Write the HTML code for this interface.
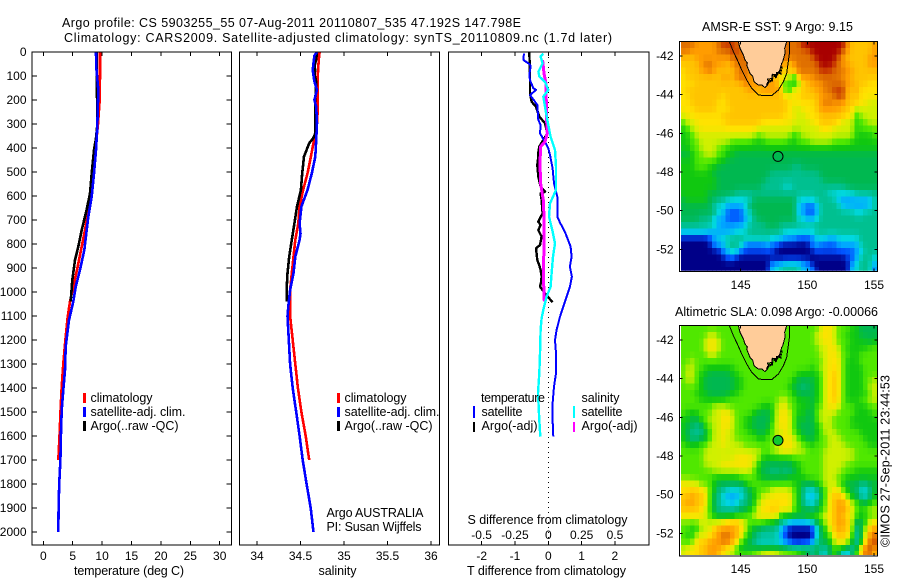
<!DOCTYPE html>
<html lang="en">
<head>
<meta charset="utf-8">
<title>Argo profile CS 5903255_55</title>
<style>
html,body{margin:0;padding:0;background:#fff;}
svg{display:block;font-family:"Liberation Sans",sans-serif;font-size:12px;fill:#000;}
text{fill:#000;}
text[textLength]{font-size:12.5px;}
</style>
</head>
<body>
<svg id="chart" xmlns="http://www.w3.org/2000/svg" width="900" height="580" viewBox="0 0 900 580">
<defs>
<clipPath id="clip-sst"><rect x="680" y="42" width="197.5" height="228.7"/></clipPath>
<clipPath id="clip-sla"><rect x="680" y="326" width="197.5" height="229"/></clipPath>
</defs>
<rect x="0" y="0" width="900" height="580" fill="#fff"/>
<text x="62" y="27" textLength="459" lengthAdjust="spacing">Argo profile: CS 5903255_55 07-Aug-2011 20110807_535 47.192S 147.798E</text>
<text x="64" y="42" textLength="548" lengthAdjust="spacing">Climatology: CARS2009. Satellite-adjusted climatology: synTS_20110809.nc (1.7d later)</text>

<g id="layer-heat"></g>
<g id="layer-marks"></g>
<g id="layer-axes"></g>

<g>
<rect x="83" y="393" width="3" height="10" fill="#f00"/>
<rect x="83" y="407" width="3" height="10" fill="#00f"/>
<rect x="83" y="421" width="3" height="10" fill="#000"/>
<text x="90.5" y="402" textLength="62" lengthAdjust="spacing">climatology</text>
<text x="90.5" y="416" textLength="95" lengthAdjust="spacing">satellite-adj. clim.</text>
<text x="90.5" y="430" textLength="88" lengthAdjust="spacing">Argo(..raw -QC)</text>
</g>
<g>
<rect x="337" y="393" width="3" height="10" fill="#f00"/>
<rect x="337" y="407" width="3" height="10" fill="#00f"/>
<rect x="337" y="421" width="3" height="10" fill="#000"/>
<text x="344.5" y="402" textLength="62" lengthAdjust="spacing">climatology</text>
<text x="344.5" y="416" textLength="95" lengthAdjust="spacing">satellite-adj. clim.</text>
<text x="344.5" y="430" textLength="88" lengthAdjust="spacing">Argo(..raw -QC)</text>
</g>
<text x="326.5" y="517" textLength="97" lengthAdjust="spacing">Argo AUSTRALIA</text>
<text x="326.5" y="531" textLength="95" lengthAdjust="spacing">PI: Susan Wijffels</text>

<g>
<text x="481" y="402" textLength="64" lengthAdjust="spacing">temperature</text>
<rect x="473" y="406" width="2" height="12" fill="#00f"/>
<text x="481.5" y="416" textLength="41" lengthAdjust="spacing">satellite</text>
<rect x="473" y="422" width="2" height="10" fill="#000"/>
<text x="481.5" y="430" textLength="56" lengthAdjust="spacing">Argo(-adj)</text>
<text x="581.5" y="402" textLength="38" lengthAdjust="spacing">salinity</text>
<rect x="573" y="406" width="2" height="12" fill="#0ff"/>
<text x="581.5" y="416" textLength="41" lengthAdjust="spacing">satellite</text>
<rect x="573" y="422" width="2" height="10" fill="#f0f"/>
<text x="581.5" y="430" textLength="56" lengthAdjust="spacing">Argo(-adj)</text>
</g>

<text x="74" y="575" textLength="110" lengthAdjust="spacing">temperature (deg C)</text>
<text x="318.5" y="575" textLength="38" lengthAdjust="spacing">salinity</text>
<text x="467.5" y="524" textLength="160" lengthAdjust="spacing">S difference from climatology</text>
<text x="467" y="575" textLength="159" lengthAdjust="spacing">T difference from climatology</text>
<text x="702" y="31" textLength="151" lengthAdjust="spacing">AMSR-E SST: 9 Argo: 9.15</text>
<text x="675" y="316" textLength="203" lengthAdjust="spacing">Altimetric SLA: 0.098 Argo: -0.00066</text>
<text transform="translate(889.5 547) rotate(-90)" textLength="172" lengthAdjust="spacing">©IMOS 27-Sep-2011 23:44:53</text>
</svg>

<script>
/* ---------- profile data (depth in m) ---------- */
const depthTicks = [0,100,200,300,400,500,600,700,800,900,1000,1100,1200,1300,1400,1500,1600,1700,1800,1900,2000];
const tempTicks = [0,5,10,15,20,25,30];
const salTicks = [34,34.5,35,35.5,36];
const salTickLabels = ['34','34.5','35','35.5','36'];
const tDiffTicks = [-2,-1,0,1,2];
const sDiffTicks = [-0.5,-0.25,0,0.25,0.5];
const sDiffTickLabels = ['-0.5','-0.25','0','0.25','0.5'];
const lonTicks = [145,150,155];
const latTicks = [-42,-44,-46,-48,-50,-52];

const tempClimDepth = [0,100,200,300,400,500,600,658,742,811,894,978,1040,1103,1186,1297,1395,1478,1600,1700];
const tempClimValue = [9.65,9.65,9.6,9.3,8.9,8.5,8.0,7.66,7.09,6.53,5.85,5.1,4.54,4.15,3.81,3.4,3.13,2.96,2.75,2.55];
const tempSatDepth = [0,60,158,311,408,506,603,686,742,825,908,978,1040,1117,1228,1325,1408,1492,1600,1700,1800,1900,2000];
const tempSatValue = [8.96,9.0,9.36,9.19,8.96,8.62,8.23,7.66,7.38,6.97,6.24,5.51,5.1,4.37,3.81,3.69,3.4,3.13,3.0,2.9,2.7,2.6,2.55];
const tempArgoDepth = [0,100,200,300,360,408,506,589,658,742,811,867,950,1040];
const tempArgoValue = [9.07,9.07,9.15,9.2,8.96,8.62,8.23,7.94,7.37,6.53,5.95,5.39,4.93,4.66];

const salClimDepth = [0,30,89,158,228,297,367,436,506,575,644,714,783,853,922,992,1061,1100,1200,1300,1400,1500,1600,1700];
const salClimValue = [34.72,34.71,34.70,34.70,34.70,34.69,34.655,34.62,34.58,34.53,34.49,34.475,34.44,34.42,34.40,34.38,34.38,34.38,34.41,34.44,34.47,34.51,34.56,34.60];
const salSatDepth = [0,15,75,123,158,200,228,297,367,436,506,575,644,714,756,783,853,922,992,1061,1100,1200,1300,1400,1500,1600,1700,1800,1900,2000];
const salSatValue = [34.69,34.66,34.64,34.66,34.69,34.66,34.68,34.69,34.68,34.67,34.63,34.58,34.51,34.49,34.50,34.49,34.44,34.42,34.38,34.36,34.35,34.365,34.38,34.41,34.45,34.49,34.525,34.57,34.617,34.65];
const salArgoDepth = [0,30,60,75,90,123,200,339,360,380,436,506,575,644,714,783,853,922,992,1040];
const salArgoValue = [34.69,34.68,34.66,34.67,34.66,34.68,34.67,34.67,34.645,34.60,34.54,34.52,34.505,34.46,34.43,34.40,34.37,34.35,34.34,34.345];

const diffTSatDepth = [6,33,50,58,96,117,151,158,179,197,221,283,304,339,374,401,429,485,547,603,686,711,749,811,853,894,936,978,1019,1061,1103,1158,1200,1256,1339,1394,1464,1533,1603];
const diffTSatValue = [-0.73,-0.75,-0.57,-0.53,-0.57,-0.55,-0.45,-0.37,-0.55,-0.45,-0.33,-0.30,-0.23,-0.25,-0.10,0.0,0.05,0.13,0.17,0.27,0.27,0.35,0.50,0.67,0.70,0.65,0.71,0.65,0.55,0.45,0.35,0.25,0.20,0.23,0.23,0.17,0.13,0.13,0.15];
const diffTArgoDepth = [1,89,172,207,228,269,297,339,394,420,436,471,519,561,582,589,617,672,707,721,742,769,804,818,840,867,885,908,936,960,978,1006,1043];
const diffTArgoValue = [-0.57,-0.55,-0.55,-0.50,-0.37,-0.27,-0.10,-0.03,-0.27,-0.30,-0.30,-0.33,-0.30,-0.23,-0.10,-0.23,-0.20,-0.17,-0.30,-0.23,-0.30,-0.20,-0.25,-0.37,-0.35,-0.33,-0.28,-0.23,-0.20,-0.22,-0.25,-0.10,0.13];
const diffSSatDepth = [6,19,47,82,103,124,158,186,228,283,353,408,478,575,631,686,742,797,853,922,978,1019,1075,1110,1158,1256,1339,1422,1533,1603];
const diffSSatValue = [-0.0375,-0.0575,-0.0425,-0.0745,-0.067,-0.025,0,-0.0375,-0.025,-0.0075,0.0175,0.05,0.058,0.058,0.0125,0.005,0.03,0.05,0.035,0.025,0.0175,-0.0125,-0.0375,-0.05,-0.0575,-0.0625,-0.0675,-0.0775,-0.0675,-0.06];
const diffSArgoDepth = [33,89,131,283,339,374,394,464,547,617,686,811,922,1040];
const diffSArgoValue = [-0.0425,-0.0325,-0.0175,-0.0125,-0.0075,-0.025,-0.0575,-0.0625,-0.0575,-0.0375,-0.0325,-0.0325,-0.0375,-0.03];

/* ---------- map data: one hex level per cell, 1/3 degree grid ---------- */
const sstRows = [
"cccbbbbbcd ddcccccccc ccccccceee eeeeeeebaaaaab",
"ccbbbbbbcc cddccccccc ccccccccce eeeeeecbaaaaab",
"aaabbbbbbb bccccccccc cccccccccc eeeeecbaaaaabb",
"aaaabccbbb abcccccccc bbbb9bcccc ceeedcbbaaaabb",
"9aaabbcbaa aabccbbbbb aaa9bbcccc cdddcccbbaaaaa",
"9aaaaaaaab bacccbbbbb aaa884bbbb ccccccbbaaaaaa",
"999aaaaaaa aaaacbbbbb bb77766aab bbcccccbbaaa99",
"9aaaaaaaaa aaaaabbabb bbb6699aaa bbccdddaab9999",
"99aaaaaaa9 aaaaaaaaaa aaa9999aaa abbbcddaaa9999",
"99aaaaaa99 aaaaaaaaaa aaaa999999 abccbbbaaa9988",
"999aaaaa99 9aaaaaaaaa aaaa988999 abbbbbaa978888",
"899999999a aaaaaaaaaa aaa9998899 9aaaaaa9968888",
"7889999999 aaaaaaaa99 9999988889 9aaaa988867788",
"6788999999 9999999888 8888888888 89998888867777",
"6678888888 8888888788 8888867888 88888888866667",
"6677888888 8777776667 7777667778 88887777666666",
"6677888877 6666666666 6666666666 66666666666666",
"5567788877 6655555555 5555555555 55555555555555",
"6667777766 5555555555 5555555555 55555555555555",
"6667776655 5555555555 5555544555 55555555555555",
"6666666555 5555555555 4444444444 45555555555555",
"6666666655 5555555554 4444444444 44555555555555",
"6666666655 5555555544 4443344444 44444445555555",
"6666665555 5544444444 4444444444 44433333344444",
"5666665544 3333335555 5555553333 44444222222224",
"5555555333 2222355555 5555552211 24444422222224",
"5555555533 1111335555 5555552211 24444444433444",
"5555444222 1111234555 5555553322 34444444444444",
"4444444422 2222344445 5544444444 44444444444444",
"3333332222 2233344444 4443333333 44444444444444",
"0000001233 4444444444 3332221111 33322333334444",
"0000000222 4444111112 1100000002 21111222224444",
"0000000002 2431111111 1000000000 11111111122444",
"0000000000 1100000000 0000000000 00000001124443",
"0000000000 0000000000 2223333220 00000000234442",
"0000000000 0000000000 3344444222 00000000334441"
];
const slaRows = [
"7777777777 7777777777 7777777777 78998777665555",
"7777778877 7777777777 7777777777 89998776665555",
"7777789987 7777777777 7777777777 88998777666656",
"7777789987 7777777777 7777777777 78899876666677",
"7777778877 7777777777 7777777777 78899877667777",
"7787777777 7777777777 7777777777 77899976667777",
"7887766666 6677777777 7777777776 78899976666777",
"7887665555 5667777777 7777776666 6789a976666777",
"7887655555 5566777777 7777765555 6789a976666778",
"7777655555 5566777777 7777655455 6789a976666788",
"7776665555 5667777777 7777765555 6789a976666678",
"7777666666 7777777777 7788776665 6789a976667788",
"7777777888 7777777766 6889776665 77899877766677",
"7666777889 9877776555 6899876655 78888777766667",
"6655778889 9877665555 6899875655 78887777666666",
"6554477889 9877665555 7899875555 67887777666666",
"6544457889 8877766556 7889876555 67888777776666",
"6544557889 8877777667 7889987655 67788877777666",
"7666778889 8888777777 7889988776 77788887777766",
"7777788888 8888888877 8899988877 77888888877777",
"7777788888 8899998866 6666677777 77888888877777",
"7777788889 9999998655 5555566777 77888887777777",
"7777777888 8888887655 4454456777 77888877766666",
"7777777666 6667777655 5555666677 77888776666666",
"9988777655 5555677777 7777766555 67888765554455",
"99aa997644 3333456777 8888876433 45789976553346",
"aabaa97543 2223456788 9999976432 3579aa97553346",
"abbaa97543 3234456899 9999976433 4679abba876567",
"aaaa987544 4445567899 aa99976554 5679abba876788",
"9999987655 5566778999 9966666677 7889aba9876677",
"7777888889 aab9877776 6544222223 5689abba845689",
"7766888abb bba9865544 4421000000 3568abaa8358ab",
"7668889abc cbb9765444 4421000000 35679aa97358bc",
"7779aabbbc cb97654333 3321100001 455689986359cd",
"8899aabbba 9875555555 5555444555 54447665359cdb",
"8999aabba9 8877778899 9988887653 63357522579cca"
];
const coastLon = [144.825,144.95,145.2,145.325,145.5,145.45,145.7,145.9,146.0,146.325,146.6,146.825,147.0,147.075,147.0,147.325,147.4,147.7,147.6,147.9,148.075,148.15,148.325,148.3,148.45];
const coastLat = [-41.26,-41.6,-41.95,-42.21,-42.35,-42.47,-42.9,-43.05,-43.33,-43.5,-43.5,-43.64,-43.5,-43.3,-43.2,-43.16,-42.95,-42.95,-43.15,-42.8,-42.38,-42.3,-41.86,-41.6,-41.26];
const inletLon = [146.95,147.15,147.33,147.4,147.65,147.75,148.0,148.08];
const inletLat = [-43.5,-43.28,-43.33,-42.98,-43.07,-42.81,-42.9,-42.55];
const shelfLon = [144.15,144.45,144.75,145.075,145.45,145.825,146.325,146.825,147.325,147.825,148.2,148.45,148.65,148.65];
const shelfLat = [-41.26,-41.78,-42.21,-42.72,-43.24,-43.67,-44.02,-44.05,-44.05,-43.76,-43.33,-42.9,-41.86,-41.26];
const argoLon = 147.798;
const argoLat = -47.192;

/* ---------- drawing ---------- */
const NS = 'http://www.w3.org/2000/svg';
const heatLayer = document.getElementById('layer-heat');
const marksLayer = document.getElementById('layer-marks');
const axesLayer = document.getElementById('layer-axes');
const levelColors = [[0,0,136],[0,80,255],[0,168,255],[0,216,224],[0,192,144],[0,184,80],[16,200,16],[80,232,0],[208,240,0],[255,226,0],[255,196,0],[255,156,0],[224,112,0],[200,56,0],[168,0,0]];

function mk(tag, parent, attrs, text) {
  const el = document.createElementNS(NS, tag);
  for (const k in attrs) el.setAttribute(k, attrs[k]);
  if (text !== undefined) el.textContent = text;
  parent.appendChild(el);
  return el;
}

const yDepth = d => 52 + 0.24 * d;
const xTemp = t => 43.3 + 5.88 * t;
const xSal = s => 257 + 87 * (s - 34);
const xTDiff = t => 548.3 + 33.3 * t;
const xSDiff = s => 548.3 + 133.3 * s;

const panels = [
  {name:'temperature-panel', x:32, w:199.5},
  {name:'salinity-panel', x:239.5, w:200},
  {name:'difference-panel', x:448.5, w:200.5}
];
const TOP = 52, BOTTOM = 545;

function profileLine(depths, values, xFn, color, width, name) {
  const pts = depths.map((d, i) => xFn(values[i]).toFixed(1) + ',' + yDepth(d).toFixed(1)).join(' ');
  const el = mk('polyline', marksLayer, {points:pts, fill:'none', stroke:color, 'stroke-width':width, 'shape-rendering':'crispEdges', 'stroke-linejoin':'round'});
  
  
}

/* temperature profiles */
profileLine(tempClimDepth, tempClimValue, xTemp, '#f00', 2.6, 'temperature-climatology-line');
profileLine(tempArgoDepth, tempArgoValue, xTemp, '#000', 2.6, 'temperature-argo-line');
profileLine(tempSatDepth, tempSatValue, xTemp, '#00f', 2.6, 'temperature-satellite-line');
/* salinity profiles */
profileLine(salClimDepth, salClimValue, xSal, '#f00', 2.6, 'salinity-climatology-line');
profileLine(salArgoDepth, salArgoValue, xSal, '#000', 2.6, 'salinity-argo-line');
profileLine(salSatDepth, salSatValue, xSal, '#00f', 2.6, 'salinity-satellite-line');
/* difference profiles */
const zeroLine = mk('line', marksLayer, {x1:xTDiff(0), x2:xTDiff(0), y1:TOP, y2:BOTTOM, stroke:'#000', 'stroke-width':1, 'stroke-dasharray':'1 4', 'shape-rendering':'crispEdges'});


profileLine(diffTArgoDepth, diffTArgoValue, xTDiff, '#000', 2.4, 'difference-t-argo-line');
profileLine(diffTSatDepth, diffTSatValue, xTDiff, '#00f', 2, 'difference-t-satellite-line');
profileLine(diffSArgoDepth, diffSArgoValue, xSDiff, '#f0f', 3, 'difference-s-argo-line');
profileLine(diffSSatDepth, diffSSatValue, xSDiff, '#0ff', 2.4, 'difference-s-satellite-line');

/* frames */
for (const p of panels) {
  const f = mk('rect', axesLayer, {x:p.x, y:TOP, width:p.w, height:BOTTOM-TOP, fill:'none', stroke:'#000', 'stroke-width':1, 'shape-rendering':'crispEdges'});
  
  
}

function tick(x1, y1, x2, y2, name) {
  const t = mk('line', axesLayer, {x1:x1, y1:y1, x2:x2, y2:y2, stroke:'#000', 'stroke-width':1, 'shape-rendering':'crispEdges'});
  
  
}
function label(x, y, anchor, str, name) {
  const t = mk('text', axesLayer, {x:x, y:y, 'text-anchor':anchor}, str);
  
  
}

/* depth axis */
for (const d of depthTicks) {
  const y = yDepth(d);
  tick(32, y, 37, y, 'depth-tick');
  tick(226.5, y, 231.5, y, 'depth-tick-right');
  label(26.5, y + 4, 'end', String(d), 'depth-tick-label');
}
/* temperature axis */
for (const t of tempTicks) {
  const x = xTemp(t);
  tick(x, TOP, x, TOP + 4, 'temperature-tick-top');
  tick(x, BOTTOM - 4, x, BOTTOM, 'temperature-tick-bottom');
  label(x, 560, 'middle', String(t), 'temperature-tick-label');
}
/* salinity axis */
salTicks.forEach((s, i) => {
  const x = xSal(s);
  tick(x, TOP, x, TOP + 4, 'salinity-tick-top');
  tick(x, BOTTOM - 4, x, BOTTOM, 'salinity-tick-bottom');
  label(x, 560, 'middle', salTickLabels[i], 'salinity-tick-label');
});
/* difference axes */
for (const t of tDiffTicks) {
  const x = xTDiff(t);
  tick(x, TOP, x, TOP + 4, 'difference-tick-top');
  tick(x, BOTTOM - 4, x, BOTTOM, 'difference-tick-bottom');
  label(x, 560, 'middle', String(t), 't-difference-tick-label');
}
sDiffTicks.forEach((s, i) => {
  label(xSDiff(s), 539, 'middle', sDiffTickLabels[i], 's-difference-tick-label');
});

/* maps */
const maps = [
  {name:'sst-map', rows:sstRows, clip:'clip-sst', lat42:56, frameTop:41.7, frameBottom:271.7, labelY:289, marker:'#00b850'},
  {name:'sla-map', rows:slaRows, clip:'clip-sla', lat42:340, frameTop:325.5, frameBottom:556, labelY:573, marker:'#10c830'}
];
const xLon = lon => 740.7 + 13.33 * (lon - 145);
const lonStart = 140.525, latStart = -41.26, cellDeg = 1 / 3;

/* colour from a (fractional) level, blended between the palette stops */
function levelColor(v) {
  const lo = Math.max(0, Math.min(levelColors.length - 1, Math.floor(v)));
  const hi = Math.min(levelColors.length - 1, lo + 1);
  const f = Math.max(0, Math.min(1, v - lo));
  const c = [0, 1, 2].map(k => Math.round(levelColors[lo][k] * (1 - f) + levelColors[hi][k] * f));
  return 'rgb(' + c.join(',') + ')';
}
/* the source field is smooth: apply a light display kernel to neighbours */
function displayLevel(grid, j, i) {
  let sum = 0, wt = 0;
  for (let dj = -1; dj <= 1; dj++) {
    for (let di = -1; di <= 1; di++) {
      const row = grid[j + dj];
      if (!row || row[i + di] === undefined) continue;
      const w = (dj ? 1 : 3) * (di ? 1 : 3);
      sum += row[i + di] * w;
      wt += w;
    }
  }
  return sum / wt;
}

for (const m of maps) {
  const yLat = lat => m.lat42 + 19.33 * (-42 - lat);
  const ptsOf = (lons, lats) => lons.map((lon, i) => xLon(lon).toFixed(1) + ',' + yLat(lats[i]).toFixed(1)).join(' ');
  const group = mk('g', heatLayer, {'clip-path':'url(#' + m.clip + ')', 'shape-rendering':'crispEdges'});
  
  
  const grid = m.rows.map(r => r.replace(/ /g, '').split('').map(ch => parseInt(ch, 16)));
  grid.forEach((cells, j) => {
    for (let i = 0; i < cells.length; i++) {
      const x0 = xLon(lonStart + i * cellDeg), x1 = xLon(lonStart + (i + 1) * cellDeg);
      const y0 = yLat(latStart - j * cellDeg), y1 = yLat(latStart - (j + 1) * cellDeg);
      const c = mk('rect', group, {x:x0.toFixed(2), y:y0.toFixed(2), width:(x1 - x0 + 0.4).toFixed(2), height:(y1 - y0 + 0.4).toFixed(2), fill:levelColor(displayLevel(grid, j, i))});
      
      
    }
  });
  const geo = mk('g', heatLayer, {'clip-path':'url(#' + m.clip + ')'});
  
  
  const land = mk('polygon', geo, {points:ptsOf(coastLon, coastLat), fill:'#ffcc99', stroke:'#000', 'stroke-width':1, 'shape-rendering':'crispEdges'});
  
  
  const inlets = mk('polyline', geo, {points:ptsOf(inletLon, inletLat), fill:'none', stroke:'#000', 'stroke-width':2, 'stroke-dasharray':'4 1 2 1', 'shape-rendering':'crispEdges'});
  
  
  const shelf = mk('polyline', geo, {points:ptsOf(shelfLon, shelfLat), fill:'none', stroke:'#000', 'stroke-width':1, 'shape-rendering':'crispEdges'});
  
  
  const marker = mk('circle', geo, {cx:xLon(argoLon).toFixed(1), cy:yLat(argoLat).toFixed(1), r:5, fill:m.marker, stroke:'#000', 'stroke-width':1});
  
  
  const frame = mk('rect', axesLayer, {x:679.5, y:m.frameTop, width:198, height:m.frameBottom - m.frameTop, fill:'none', stroke:'#000', 'stroke-width':1, 'shape-rendering':'crispEdges'});
  
  
  for (const lon of lonTicks) {
    const x = xLon(lon);
    tick(x, m.frameTop, x, m.frameTop + 3, 'longitude-tick-top');
    tick(x, m.frameBottom - 3, x, m.frameBottom, 'longitude-tick-bottom');
    label(x, m.labelY, 'middle', String(lon), 'longitude-tick-label');
  }
  for (const lat of latTicks) {
    const y = yLat(lat);
    tick(679.5, y, 682.5, y, 'latitude-tick-left');
    tick(874.5, y, 877.5, y, 'latitude-tick-right');
    label(673.5, y + 4, 'end', String(lat), 'latitude-tick-label');
  }
}
</script>
</body>
</html>
